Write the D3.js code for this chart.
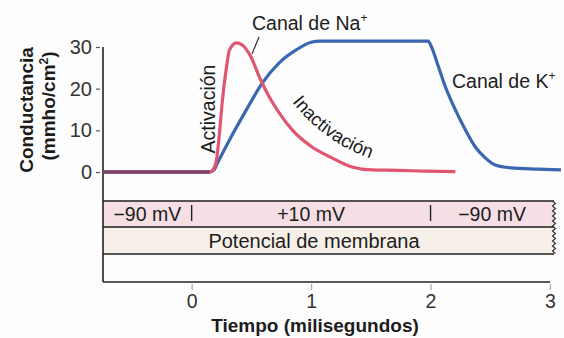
<!DOCTYPE html>
<html>
<head>
<meta charset="utf-8">
<script src="https://cdn.jsdelivr.net/npm/d3@7"></script>
<style>
  html, body { margin: 0; padding: 0; background: #fdfdfd; }
  svg { display: block; font-family: "Liberation Sans", Arial, sans-serif; }
</style>
</head>
<body>
<svg id="chart" width="564" height="338"></svg>
<script>
// ---- Data ----
const naTime   = [-0.742, -0.4, 0.0, 0.15, 0.175, 0.208, 0.233, 0.258, 0.292, 0.317, 0.375, 0.442, 0.5, 0.567, 0.65, 0.733, 0.842, 1.008, 1.175, 1.342, 1.508, 1.733, 1.95, 2.208];
const naValues = [0, 0, 0, 0, 0.4, 2.9, 9.4, 17.3, 25.2, 29.3, 31.0, 30.0, 27.4, 22.8, 18.0, 14.2, 10.1, 6.0, 3.4, 1.2, 0.5, 0.4, 0.2, 0.1];
const kTime    = [-0.742, -0.4, 0.0, 0.15, 0.185, 0.217, 0.317, 0.458, 0.592, 0.733, 0.875, 1.008, 1.07, 1.3, 1.55, 1.8, 1.98, 2.008, 2.067, 2.125, 2.208, 2.292, 2.375, 2.458, 2.542, 2.675, 2.9, 3.092];
const kValues  = [0, 0, 0, 0, 0.4, 2.2, 7.7, 14.9, 21.4, 26.2, 29.3, 31.2, 31.4, 31.4, 31.4, 31.4, 31.4, 30.0, 25.2, 20.4, 14.9, 10.1, 6.0, 3.4, 1.7, 1.0, 0.7, 0.5];
const yTicks = [0, 10, 20, 30];
const xTicks = [0, 1, 2, 3];
const voltageStarts = [-0.742, 0, 2];
const voltageEnds   = [0, 2, 3.03];
const voltageLabels = ["\u221290 mV", "+10 mV", "\u221290 mV"];

// ---- Layout ----
const svg = d3.select("#chart");
const x = d3.scaleLinear().domain([-0.742, 3]).range([103, 550]);
const y = d3.scaleLinear().domain([0, 30]).range([172, 47]);
const textCol = "#1c1c1c";
const redCol = "#e05670";
const blueCol = "#3a67b0";

// Voltage bands
const bandTop = 201, bandMid = 227, bandBot = 254, axisBottom = 282;
const bandRight = 554;
svg.append("rect").attr("x", 103).attr("y", bandTop).attr("width", bandRight - 103).attr("height", bandMid - bandTop).attr("fill", "#f5dfe4");
svg.append("rect").attr("x", 103).attr("y", bandMid).attr("width", bandRight - 103).attr("height", bandBot - bandMid).attr("fill", "#f6f0e8");
[bandTop, bandMid, bandBot].forEach(v => {
  svg.append("line").attr("x1", 103).attr("x2", bandRight).attr("y1", v).attr("y2", v)
    .attr("stroke", "#1e1e1e").attr("stroke-width", 1.6);
});
// wavy right edge
const wave = d3.range(bandTop, bandBot + 0.1, 2.5).map((v, i) => [bandRight + (i % 2 ? 1.5 : -1.5), v]);
svg.append("path").attr("d", d3.line()(wave)).attr("fill", "none").attr("stroke", "#333").attr("stroke-width", 1.2);

// band labels
voltageLabels.forEach((lab, i) => {
  const x0 = Math.max(x(voltageStarts[i]), 103), x1 = Math.min(x(voltageEnds[i]), bandRight);
  svg.append("text").attr("x", (x0 + x1) / 2).attr("y", 221).attr("text-anchor", "middle")
    .attr("font-size", 19.5).attr("fill", textCol).text(lab);
});
voltageStarts.slice(1).forEach(t => {
  svg.append("line").attr("x1", x(t)).attr("x2", x(t)).attr("y1", 205).attr("y2", 221)
    .attr("stroke", "#222").attr("stroke-width", 1.4);
});
svg.append("text").attr("x", 314).attr("y", 248).attr("text-anchor", "middle")
  .attr("font-size", 20).attr("fill", textCol).text("Potencial de membrana");

// Axes lines
svg.append("line").attr("x1", 103).attr("x2", 103).attr("y1", 47).attr("y2", axisBottom).attr("stroke", "#222").attr("stroke-width", 1.6);
svg.append("line").attr("x1", 103).attr("x2", 550).attr("y1", axisBottom).attr("y2", axisBottom).attr("stroke", "#222").attr("stroke-width", 1.6);

// Y ticks
const yAxis = d3.axisLeft(y).tickValues(yTicks).tickSize(4).tickPadding(4).tickFormat(d3.format("d"));
const gy = svg.append("g").attr("transform", "translate(100,0)").call(yAxis);
gy.select(".domain").remove();
gy.selectAll(".tick line").attr("stroke", "#555").attr("stroke-width", 1.2);
gy.selectAll(".tick text").attr("font-size", 20).attr("fill", "#333").attr("font-family", "Liberation Sans, Arial, sans-serif");

// X ticks
const xAxis = d3.axisBottom(x).tickValues(xTicks).tickSize(6).tickPadding(4).tickFormat(d3.format("d"));
const gx = svg.append("g").attr("transform", `translate(0,${axisBottom + 2})`).call(xAxis);
gx.select(".domain").remove();
gx.selectAll(".tick line").attr("stroke", "#aaa").attr("stroke-width", 1.2);
gx.selectAll(".tick text").attr("font-size", 19.5).attr("fill", "#333").attr("font-family", "Liberation Sans, Arial, sans-serif");

// Axis titles
svg.append("text").attr("x", 315).attr("y", 332).attr("text-anchor", "middle")
  .attr("font-size", 19).attr("font-weight", "bold").attr("fill", textCol).text("Tiempo (milisegundos)");
svg.append("text").attr("transform", "translate(33,110) rotate(-90)").attr("text-anchor", "middle")
  .attr("font-size", 19).attr("font-weight", "bold").attr("fill", textCol).text("Conductancia");
const t2 = svg.append("text").attr("transform", "translate(55,106) rotate(-90)").attr("text-anchor", "middle")
  .attr("font-size", 19).attr("font-weight", "bold").attr("fill", textCol);
t2.append("tspan").text("(mmho/cm");
t2.append("tspan").attr("font-size", 12).attr("dy", -7).text("2");
t2.append("tspan").attr("dy", 7).text(")");

// Curves
const line = d3.line().x(d => x(d[0])).y(d => y(d[1])).curve(d3.curveMonotoneX);
const kData = kTime.map((t, i) => [t, kValues[i]]);
const naData = naTime.map((t, i) => [t, naValues[i]]);
svg.append("path").attr("d", line(kData)).attr("fill", "none").attr("stroke", blueCol).attr("stroke-width", 3.2);
svg.append("path").attr("d", line(naData)).attr("fill", "none").attr("stroke", redCol).attr("stroke-width", 3.2);
// shared baseline where both channels are closed
const shared = naData.filter(d => d[1] === 0);
svg.append("path").attr("d", d3.line().x(d => x(d[0])).y(d => y(d[1]))(shared))
  .attr("fill", "none").attr("stroke", "#7c4466").attr("stroke-width", 3.6);

// Annotations
const na = svg.append("text").attr("x", 252).attr("y", 30).attr("font-size", 19.5).attr("fill", textCol);
na.append("tspan").text("Canal de Na");
na.append("tspan").attr("font-size", 12).attr("dy", -8).text("+");
svg.append("line").attr("x1", 259).attr("y1", 37).attr("x2", 252).attr("y2", 54).attr("stroke", "#333").attr("stroke-width", 1.2);

const k = svg.append("text").attr("x", 452).attr("y", 88).attr("font-size", 19.5).attr("fill", textCol);
k.append("tspan").text("Canal de K");
k.append("tspan").attr("font-size", 12).attr("dy", -8).text("+");

svg.append("text").attr("transform", "translate(215,109) rotate(-90)").attr("text-anchor", "middle")
  .attr("font-size", 19.5).attr("fill", textCol).text("Activación");

svg.append("defs").append("path").attr("id", "inactPath")
  .attr("d", "M 292,102 Q 334,154 396,165");
svg.append("text").attr("font-size", 18.5).attr("fill", textCol)
  .append("textPath").attr("href", "#inactPath").text("Inactivación");
</script>
</body>
</html>
